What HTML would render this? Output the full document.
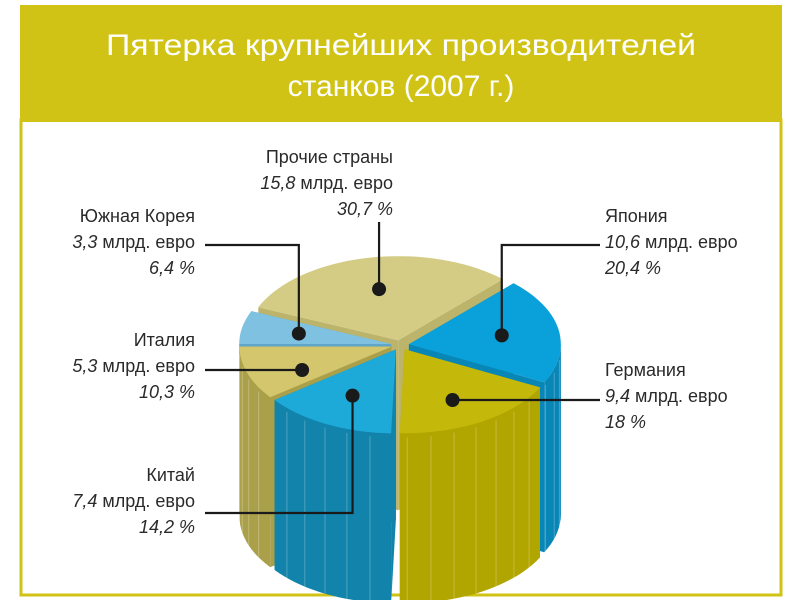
<!DOCTYPE html>
<html><head><meta charset="utf-8"><style>
html,body{margin:0;padding:0;background:#fff}
body{width:800px;height:600px;position:relative;overflow:hidden;font-family:"Liberation Sans",sans-serif}
</style></head><body>
<svg width="800" height="600" style="position:absolute;left:0;top:0">
<rect x="20" y="5" width="762" height="117" fill="#d0c315"/>
<rect x="21" y="120" width="760" height="475" fill="none" stroke="#d0c315" stroke-width="3"/>
<text x="401" y="55" text-anchor="middle" fill="#fff" font-size="30" font-family="Liberation Sans, sans-serif" textLength="590" lengthAdjust="spacingAndGlyphs">Пятерка крупнейших производителей</text>
<text x="401" y="96" text-anchor="middle" fill="#fff" font-size="30" font-family="Liberation Sans, sans-serif">станков (2007 г.)</text>
<g id="pie"></g>
<g id="labels" font-size="18" fill="#2a2a2a" font-family="Liberation Sans, sans-serif"></g>
</svg>
<script>
const categories=["Южная Корея","Прочие страны","Япония","Германия","Китай","Италия"];
const valuesBn=[3.3,15.8,10.6,9.4,7.4,5.3];
const percents=[6.4,30.7,20.4,18,14.2,10.3];
const topColors=["#7fc1e0","#d4cc84","#0aa0d9","#c4b80a","#1eaad9","#d4c66c"];
const sideColors=["#5fa6c8","#bcb46a","#0886b6","#b1a500","#1283ab","#aba04a"];
const cx=400,cy=345,rx=152,ry=84,H=170,EX=9;
const NS="http://www.w3.org/2000/svg";
const pie=document.getElementById('pie');
const total=percents.reduce((a,b)=>a+b,0);
function P(a,r,ox,oy,dz){const t=a*Math.PI/180;return [cx+ox+r*rx*Math.cos(t),cy+oy-r*ry*Math.sin(t)+(dz||0)];}
let slices=[];let ang=180;
percents.forEach((p,i)=>{const sweep=p/total*360;const a0=ang,a1=ang-sweep;ang=a1;
 const mid=(a0+a1)/2,t=mid*Math.PI/180;slices.push({i,a0,a1,mid,ox:EX*Math.cos(t),oy:-EX*0.55*Math.sin(t)});});
function arcPts(a0,a1,ox,oy,dz){const pts=[];const n=Math.max(4,Math.ceil(Math.abs(a0-a1)/3));for(let k=0;k<=n;k++){pts.push(P(a0+(a1-a0)*k/n,1,ox,oy,dz));}return pts;}
function poly(pts,fill,name){const e=document.createElementNS(NS,'polygon');e.setAttribute('points',pts.map(p=>p[0].toFixed(1)+','+p[1].toFixed(1)).join(' '));e.setAttribute('fill',fill);


pie.appendChild(e);}
const order=[...slices].sort((a,b)=>Math.sin(b.mid*Math.PI/180)-Math.sin(a.mid*Math.PI/180));
order.forEach(s=>{const {ox,oy}=s;const c=[cx+ox,cy+oy];
 [s.a0,s.a1].forEach(a=>{const e=P(a,1,ox,oy);poly([c,e,[e[0],e[1]+H],[c[0],c[1]+H]],sideColors[s.i],'slice-cut-face');});
 // front outer wall
 let lo=Math.max(s.a1,-180),hi=Math.min(s.a0,0);
 let segs=[];if(s.a0>180||s.a1<0){}
 const ranges=[[Math.min(s.a0,360),Math.max(s.a1,180)],[Math.min(s.a0,0),Math.max(s.a1,-180)]];
 ranges.forEach(r=>{if(r[0]>r[1]){const top=arcPts(r[0],r[1],ox,oy,0);const bot=arcPts(r[1],r[0],ox,oy,H);poly(top.concat(bot),sideColors[s.i],'slice-side-wall');
  for(let a=r[0]-8;a>r[1];a-=9){const p=P(a,1,ox,oy);const l=document.createElementNS(NS,'line');l.setAttribute('x1',p[0]);l.setAttribute('y1',p[1]+4);l.setAttribute('x2',p[0]);l.setAttribute('y2',p[1]+H);l.setAttribute('stroke','rgba(255,255,255,0.25)');l.setAttribute('stroke-width','1');
  
  
  pie.appendChild(l);}}});
});
order.forEach(s=>{const c=[cx+s.ox,cy+s.oy];poly([c].concat(arcPts(s.a0,s.a1,s.ox,s.oy,0)),topColors[s.i],'slice-top-'+s.i);});
// labels
const L=document.getElementById('labels');
const layout=[
 {x:195,y:222,anchor:'end',lead:[[205,245],[282,245]]},
 {x:393,y:163,anchor:'end',lead:[[393,222]]},
 {x:605,y:222,anchor:'start',lead:[[600,245],[537,245]]},
 {x:605,y:376,anchor:'start',lead:[[600,400]]},
 {x:195,y:481,anchor:'end',lead:[[205,513],[347,513]]},
 {x:195,y:346,anchor:'end',lead:[[205,370]]}];
function fmt(v){return String(v).replace('.',',');}
slices.forEach((s,k)=>{const i=s.i,lay=layout[i];
 const d=P(s.mid,0.62,s.ox,s.oy);
 let pts=lay.lead.map(p=>p.slice());const last=pts[pts.length-1];
 if(pts.length===1){ if(Math.abs(last[0]-d[0])<20&&i===1){last[0]=d[0];} pts.push(i===1?[d[0],d[1]]:[d[0],last[1]]); d[1]=i===1?d[1]:last[1];}
 else{last[0]=d[0];pts.push([d[0],d[1]]);}
 const pl=document.createElementNS(NS,'polyline');pl.setAttribute('points',pts.map(p=>p.join(',')).join(' '));pl.setAttribute('fill','none');pl.setAttribute('stroke','#1a1a1a');pl.setAttribute('stroke-width','2.2');
 
 
 L.appendChild(pl);
 const dot=document.createElementNS(NS,'circle');dot.setAttribute('cx',d[0]);dot.setAttribute('cy',d[1]);dot.setAttribute('r','7');dot.setAttribute('fill','#1a1a1a');
 
 
 L.appendChild(dot);
 const t=document.createElementNS(NS,'text');t.setAttribute('x',lay.x);t.setAttribute('y',lay.y);t.setAttribute('text-anchor',lay.anchor);
 
 
 t.innerHTML='<tspan x="'+lay.x+'">'+categories[i]+'</tspan><tspan x="'+lay.x+'" dy="26"><tspan font-style="italic">'+fmt(valuesBn[i])+'</tspan> млрд. евро</tspan><tspan x="'+lay.x+'" dy="26" font-style="italic">'+fmt(percents[i])+' %</tspan>';
 L.appendChild(t);});
</script>
</body></html>
